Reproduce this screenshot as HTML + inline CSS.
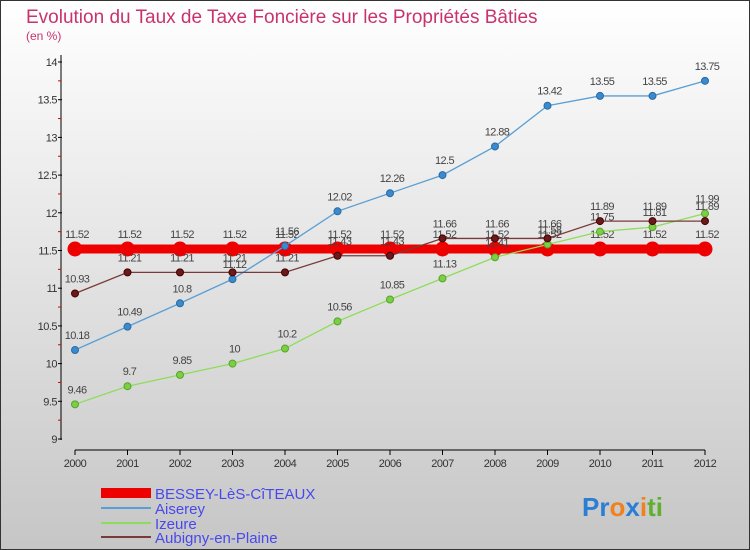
<!DOCTYPE html>
<html><head><meta charset="utf-8"><style>
body{margin:0}
#c{width:750px;height:550px;position:relative;overflow:hidden;font-family:"Liberation Sans",sans-serif}
svg text{font-family:"Liberation Sans",sans-serif}
</style></head><body>
<div id="c">
<svg id="s" width="750" height="550" xmlns="http://www.w3.org/2000/svg">
<defs><linearGradient id="bg" x1="0" y1="0" x2="0" y2="1"><stop offset="0" stop-color="#ffffff"/><stop offset="1" stop-color="#c6c6c6"/></linearGradient></defs>
<rect x="0.5" y="0.5" width="749" height="549" fill="url(#bg)" stroke="#333"/>
<text x="26" y="23" font-size="19" fill="#c8336e">Evolution du Taux de Taxe Foncière sur les Propriétés Bâties</text>
<text x="26" y="40" font-size="12" fill="#c8336e">(en %)</text>
<g id="g"></g>
<g>
<rect x="101" y="488" width="50" height="10" fill="#ee0000"/>
<text x="155" y="499" font-size="15" fill="#4848ee">BESSEY-LèS-CîTEAUX</text>
<line x1="101" y1="508" x2="151" y2="508" stroke="#5a9fd4" stroke-width="2"/>
<text x="155" y="514" font-size="15" fill="#4848ee">Aiserey</text>
<line x1="101" y1="523" x2="151" y2="523" stroke="#8edd5a" stroke-width="2"/>
<text x="155" y="529" font-size="15" fill="#4848ee">Izeure</text>
<line x1="101" y1="537" x2="151" y2="537" stroke="#7a3a3a" stroke-width="2"/>
<text x="155" y="543" font-size="15" fill="#4848ee">Aubigny-en-Plaine</text>
</g>
<text x="582" y="516" font-size="26" font-weight="bold"><tspan fill="#2a7fd4">Pr</tspan><tspan fill="#f08020">o</tspan><tspan fill="#2a7fd4">x</tspan><tspan fill="#f08020">i</tspan><tspan fill="#60b030">ti</tspan></text>
</svg></div>
<script>
const years=[2000,2001,2002,2003,2004,2005,2006,2007,2008,2009,2010,2011,2012];
const bessey=[11.52,11.52,11.52,11.52,11.52,11.52,11.52,11.52,11.52,11.52,11.52,11.52,11.52];
const aiserey=[10.18,10.49,10.8,11.12,11.56,12.02,12.26,12.5,12.88,13.42,13.55,13.55,13.75];
const izeure=[9.46,9.7,9.85,10,10.2,10.56,10.85,11.13,11.41,11.58,11.75,11.81,11.99];
const aubigny=[10.93,11.21,11.21,11.21,11.21,11.43,11.43,11.66,11.66,11.66,11.89,11.89,11.89];
const yTicks=[9,9.5,10,10.5,11,11.5,12,12.5,13,13.5,14];
const NS="http://www.w3.org/2000/svg";
const g=document.getElementById('g');
function X(i){return 75+i*52.5;}
function Y(v){return 439-(v-9)*75.4;}
function mk(t,a){const e=document.createElementNS(NS,t);for(const k in a)e.setAttribute(k,a[k]);g.appendChild(e);return e;}
let e=mk('line',{x1:61,y1:55,x2:61,y2:440,stroke:'#000'});


e=mk('line',{x1:75,y1:450,x2:705,y2:450,stroke:'#000'});


yTicks.forEach((v,i)=>{
 const y=Y(v);
 let t=mk('line',{x1:58,y1:y,x2:62,y2:y,stroke:'#000'});
 
 
 if(i<yTicks.length-1){let m=mk('line',{x1:58,y1:Y(v+0.25),x2:61,y2:Y(v+0.25),stroke:'#d00'});
 
 }
 let l=mk('text',{x:57,y:y+4,'font-size':11,fill:'#333','text-anchor':'end','letter-spacing':'-0.5'});l.textContent=v;
 
 
});
years.forEach((yr,i)=>{
 let t=mk('line',{x1:X(i),y1:450,x2:X(i),y2:455,stroke:'#000'});
 
 
 let l=mk('text',{x:X(i),y:467,'font-size':11,fill:'#333','text-anchor':'middle','letter-spacing':'-0.5'});l.textContent=yr;
 
 
});
function series(vals,color,w,r,name,fill,stroke){
 const p=mk('polyline',{points:vals.map((v,i)=>X(i)+','+Y(v)).join(' '),fill:'none',stroke:color,'stroke-width':w});
 
 
 vals.forEach((v,i)=>{
  const c=mk('circle',{cx:X(i),cy:Y(v),r:r,fill:fill,stroke:stroke,'stroke-width':1});
  
  
  const t=mk('text',{x:X(i)+2,y:Y(v)-11,'font-size':11,fill:'#444','text-anchor':'middle','letter-spacing':'-0.6'});t.textContent=v;
  
  
 });
}
series(bessey,'#ee0000',9,7,'bessey','#ee0000','#ee0000');
series(aiserey,'#5a9fd4',1.3,3.5,'aiserey','#3a8ad0','#2a6aa0');
series(izeure,'#8edd5a',1.3,3.5,'izeure','#7ad040','#5aa030');
series(aubigny,'#7a3a3a',1.3,3.5,'aubigny','#6a1a1a','#400');
</script>
</body></html>
